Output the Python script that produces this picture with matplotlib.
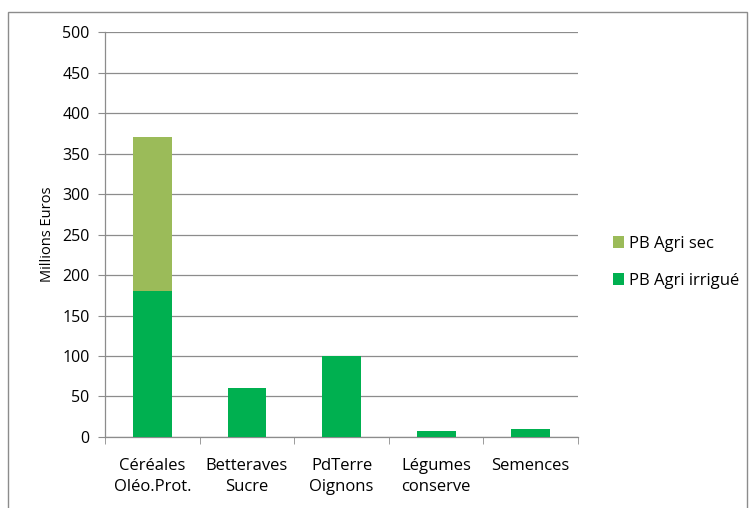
import matplotlib
matplotlib.use("Agg")
import matplotlib.pyplot as plt
from matplotlib.patches import Rectangle
import numpy as np

plt.rcParams['font.family'] = ['Open Sans', 'DejaVu Sans']

# Data (millions d'euros)
categories = ["Céréales\nOléo.Prot.", "Betteraves\nSucre", "PdTerre\nOignons",
              "Légumes\nconserve", "Semences"]
irrigue = [180, 60, 100, 7, 10]
sec = [190, 0, 0, 0, 0]

col_irr = '#00b050'
col_sec = '#9bbb59'
grid_col = '#8c8c8c'

fig = plt.figure(figsize=(7.5, 5.08), dpi=100)
fig.patch.set_facecolor('white')
ax = fig.add_axes([0.14, 0.1398, 0.6307, 0.797])

x = np.arange(len(categories))
w = 0.41
ax.bar(x, irrigue, width=w, color=col_irr, label='PB Agri irrigué', zorder=3)
ax.bar(x, sec, width=w, bottom=irrigue, color=col_sec, label='PB Agri sec', zorder=3)

ax.set_xlim(-0.5, len(categories) - 0.5)
ax.set_ylim(0, 500)
ax.set_yticks(range(0, 501, 50))
ax.yaxis.grid(True, color=grid_col, linewidth=0.9, zorder=0)
ax.set_axisbelow(True)

ax.set_xticks(x)
ax.set_xticklabels(categories, fontsize=12, linespacing=1.45)
ax.set_xticks(np.arange(-0.5, len(categories)), minor=True)
ax.tick_params(axis='x', which='major', length=0, pad=15)
ax.tick_params(axis='x', which='minor', length=5, color=grid_col, direction='out')
ax.tick_params(axis='y', length=5, color=grid_col, labelsize=11.5, pad=6)

for s in ['top', 'right']:
    ax.spines[s].set_visible(False)
for s in ['left', 'bottom']:
    ax.spines[s].set_color(grid_col)
    ax.spines[s].set_linewidth(0.9)

ax.set_ylabel('Millions Euros', fontsize=10.5, labelpad=5)

handles, labels = ax.get_legend_handles_labels()
leg = fig.legend(handles[::-1], labels[::-1], loc='center left',
                 bbox_to_anchor=(0.797, 0.484), frameon=False, fontsize=12,
                 handlelength=0.7, handleheight=0.7, handletextpad=0.3,
                 labelspacing=1.25)

# outer chart frame
fig.add_artist(Rectangle((8 / 750, -0.01), 739 / 750, 1 - 12 / 508 + 0.01,
                         transform=fig.transFigure, fill=False,
                         edgecolor='#8c8c8c', linewidth=1.0))

fig.savefig('out.png', dpi=100, facecolor='white')
